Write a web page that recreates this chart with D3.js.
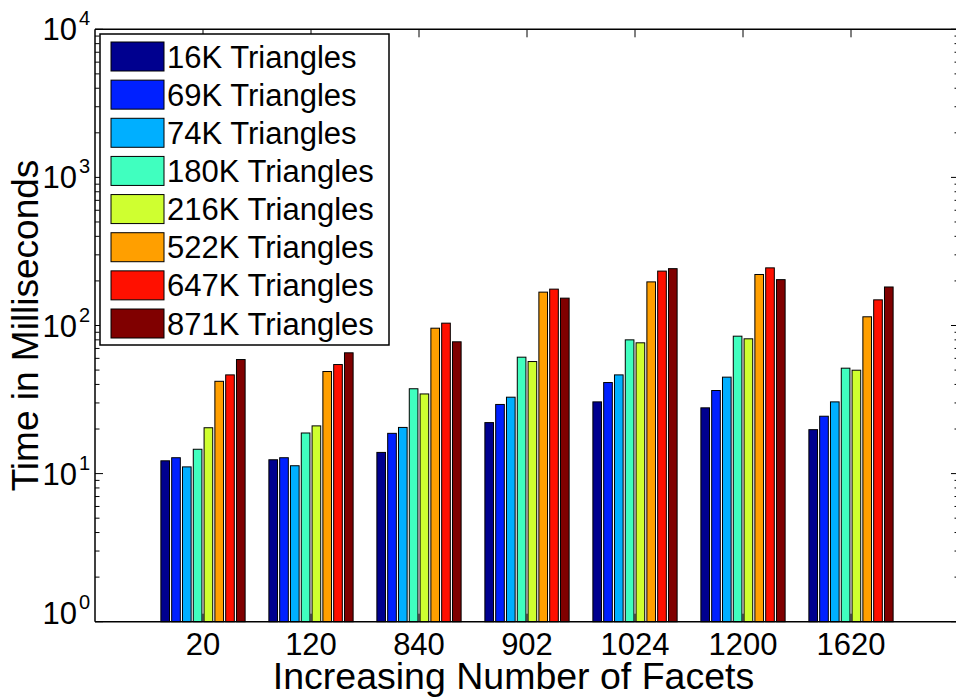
<!DOCTYPE html>
<html>
<head>
<meta charset="utf-8">
<script src="https://cdn.jsdelivr.net/npm/d3@7"></script>
<style>
  html, body { margin: 0; padding: 0; background: #fff; }
  svg { display: block; }
  text { font-family: "Liberation Sans", Arial, Helvetica, sans-serif; fill: #000; }
</style>
</head>
<body>
<svg id="chart" width="956" height="700"></svg>
<script>
// Facet counts along the x axis
const categories = ["20", "120", "840", "902", "1024", "1200", "1620"];

// Mesh sizes (one series per mesh)
const seriesNames = ["16K Triangles", "69K Triangles", "74K Triangles", "180K Triangles",
                     "216K Triangles", "522K Triangles", "647K Triangles", "871K Triangles"];

// Time in milliseconds, per mesh, for each facet count
const t16K  = [12.2, 12.4, 13.9, 22.1, 30.5, 27.8, 19.8];
const t69K  = [12.8, 12.8, 18.7, 29.3, 41.2, 36.4, 24.4];
const t74K  = [11.1, 11.3, 20.5, 32.8, 46.4, 44.8, 30.5];
const t180K = [14.6, 18.8, 37.4, 61.1, 80.0, 84.7, 51.5];
const t216K = [20.4, 21.0, 34.5, 57.1, 76.4, 81.3, 49.9];
const t522K = [42.0, 48.9, 95.9, 168, 197, 221, 114.5];
const t647K = [46.4, 54.5, 103.7, 176, 233, 245, 149];
const t871K = [58.9, 65.4, 77.6, 153, 242, 204, 182];

// Decade ticks on the log axis
const yTickExponents = [0, 1, 2, 3, 4];

const seriesValues = [t16K, t69K, t74K, t180K, t216K, t522K, t647K, t871K];
const seriesColors = ["#00008f", "#0020ff", "#00afff", "#40ffbf",
                      "#cfff30", "#ff9f00", "#ff1000", "#800000"];

const svg = d3.select("#chart");
const FONT_TICK = 31, FONT_SUP = 20, FONT_XTITLE = 37.5, FONT_YTITLE = 37, FONT_LEGEND = 31;

// Axes box
const plotLeft = 95, plotRight = 959, plotTop = 29.3, plotBottom = 621.7;

// Category slots 1..7 inside a 0..8 range
const x = d3.scaleLinear().domain([0, categories.length + 1]).range([plotLeft, plotRight]);
const slot = x(1) - x(0);
const groupWidth = 0.8 * slot;
const inner = d3.scaleBand().domain(seriesNames)
  .range([-groupWidth / 2, groupWidth / 2]).paddingInner(0.2).paddingOuter(0.1);

const y = d3.scaleLog().domain([1, 1e4]).range([plotBottom, plotTop]);

// Bars
const rows = [];
categories.forEach((c, i) => {
  seriesNames.forEach((s, j) => {
    rows.push({ cat: i, series: s, color: seriesColors[j], value: seriesValues[j][i] });
  });
});

svg.append("g").attr("class", "bars")
  .selectAll("rect").data(rows).join("rect")
  .attr("x", d => x(d.cat + 1) + inner(d.series))
  .attr("width", inner.bandwidth())
  .attr("y", d => y(d.value))
  .attr("height", d => y(1) - y(d.value))
  .attr("fill", d => d.color)
  .attr("stroke", "#000")
  .attr("stroke-width", 1);

// Axis lines and inward ticks
const axes = svg.append("g").attr("class", "axes")
  .attr("stroke", "#000").attr("fill", "none");

axes.append("line").attr("x1", plotLeft).attr("x2", plotRight).attr("y1", plotBottom).attr("y2", plotBottom).attr("stroke-width", 1.5);
axes.append("line").attr("x1", plotLeft).attr("x2", plotRight).attr("y1", plotTop).attr("y2", plotTop).attr("stroke-width", 1.5);
axes.append("line").attr("x1", plotLeft).attr("x2", plotLeft).attr("y1", plotTop).attr("y2", plotBottom).attr("stroke-width", 1.5);
axes.append("line").attr("x1", plotRight).attr("x2", plotRight).attr("y1", plotTop).attr("y2", plotBottom).attr("stroke-width", 1.5);

const majorLen = 8, minorLen = 4.5;
categories.forEach((c, i) => {
  const px = x(i + 1);
  axes.append("line").attr("x1", px).attr("x2", px).attr("y1", plotBottom).attr("y2", plotBottom - majorLen);
  axes.append("line").attr("x1", px).attr("x2", px).attr("y1", plotTop).attr("y2", plotTop + majorLen);
});

const minorValues = [];
yTickExponents.slice(0, -1).forEach(e => {
  for (let k = 2; k <= 9; k++) minorValues.push(k * Math.pow(10, e));
});
yTickExponents.forEach(e => {
  const py = y(Math.pow(10, e));
  axes.append("line").attr("x1", plotLeft).attr("x2", plotLeft + majorLen).attr("y1", py).attr("y2", py);
  axes.append("line").attr("x1", plotRight).attr("x2", plotRight - majorLen).attr("y1", py).attr("y2", py);
});
minorValues.forEach(v => {
  const py = y(v);
  axes.append("line").attr("x1", plotLeft).attr("x2", plotLeft + minorLen).attr("y1", py).attr("y2", py);
  axes.append("line").attr("x1", plotRight).attr("x2", plotRight - minorLen).attr("y1", py).attr("y2", py);
});

// X tick labels
svg.append("g").selectAll("text").data(categories).join("text")
  .attr("x", (d, i) => x(i + 1))
  .attr("y", 655)
  .attr("text-anchor", "middle")
  .attr("font-size", FONT_TICK)
  .text(d => d);

// Y tick labels as 10 with a superscript exponent
const yLabels = svg.append("g").selectAll("text").data(yTickExponents).join("text")
  .attr("x", 90)
  .attr("y", d => y(Math.pow(10, d)) + (d === 0 ? -9 : 0) + 11)
  .attr("text-anchor", "end")
  .attr("font-size", FONT_TICK);
yLabels.append("tspan").text("10");
yLabels.append("tspan").attr("font-size", FONT_SUP).attr("dy", -15).attr("dx", 2).text(d => d);

// Axis titles
svg.append("text")
  .attr("x", 513.5).attr("y", 689)
  .attr("text-anchor", "middle")
  .attr("font-size", FONT_XTITLE)
  .text("Increasing Number of Facets");

svg.append("text")
  .attr("transform", `translate(38,${(plotTop + plotBottom) / 2}) rotate(-90)`)
  .attr("text-anchor", "middle")
  .attr("font-size", FONT_YTITLE)
  .text("Time in Milliseconds");

// Legend
const legend = svg.append("g").attr("class", "legend");
legend.append("rect")
  .attr("x", 100).attr("y", 34).attr("width", 289).attr("height", 311)
  .attr("fill", "#fff").attr("stroke", "#000").attr("stroke-width", 1.5);

const rowY = d3.scaleLinear().domain([0, seriesNames.length - 1]).range([56.5, 323.5]);
const items = legend.selectAll("g.item").data(seriesNames).join("g").attr("class", "item");
items.append("rect")
  .attr("x", 111).attr("y", (d, i) => rowY(i) - 14.5)
  .attr("width", 53).attr("height", 29)
  .attr("fill", (d, i) => seriesColors[i])
  .attr("stroke", "#000").attr("stroke-width", 1);
items.append("text")
  .attr("x", 167).attr("y", (d, i) => rowY(i) + 11)
  .attr("font-size", FONT_LEGEND)
  .text(d => d);
</script>
</body>
</html>
